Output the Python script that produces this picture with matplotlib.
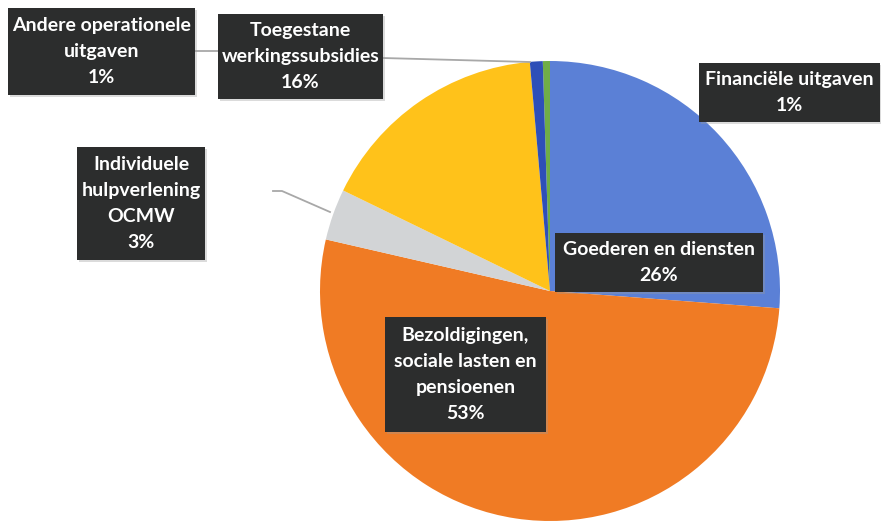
import matplotlib
matplotlib.use("Agg")
import matplotlib.pyplot as plt
from matplotlib.patches import Rectangle

categories = ["Financiële uitgaven", "Goederen en diensten",
              "Bezoldigingen, sociale lasten en pensioenen",
              "Individuele hulpverlening OCMW", "Toegestane werkingssubsidies",
              "Andere operationele uitgaven"]
values = [0.5, 26.2, 52.4, 3.6, 16.4, 0.9]
pct_labels = ["1%", "26%", "53%", "3%", "16%", "1%"]
label_texts = ["Financiële uitgaven", "Goederen en diensten",
               "Bezoldigingen,\nsociale lasten en\npensioenen",
               "Individuele\nhulpverlening\nOCMW", "Toegestane\nwerkingssubsidies",
               "Andere operationele\nuitgaven"]
colors = ["#70AD47", "#5B80D6", "#F07B24", "#D2D4D6", "#FFC21A", "#2E4FB8"]

W, H = 881, 524
fig = plt.figure(figsize=(W / 100, H / 100), dpi=100)
ax = fig.add_axes([0, 0, 1, 1])

cx, cy, r = 550, H - 291, 230
ax.pie(values, colors=colors, startangle=90 + values[0] * 3.6, counterclock=False,
       center=(cx, cy), radius=r, frame=True,
       wedgeprops=dict(linewidth=0))
ax.set_xlim(0, W)
ax.set_ylim(0, H)
ax.set_aspect("equal")
ax.axis("off")

# label boxes (pixel coords, top-left origin): x0, y0, x1, y1
label_boxes = [(699, 63, 880, 122), (555, 233, 763, 292), (385, 317, 546, 432),
               (77, 147, 205, 260), (218, 14, 383, 99), (8, 8, 195, 95)]

# leader lines
lc = "#A8A8A8"
ax.plot([195, 218], [H - 51, H - 51], color=lc, lw=1.3, zorder=1)
ax.plot([383, 530], [H - 58, H - 62], color=lc, lw=1.3, zorder=1)
ax.plot([273, 282, 330], [H - 191, H - 191, H - 212], color=lc, lw=1.3, zorder=1)

for (x0, y0, x1, y1), t, p in zip(label_boxes, label_texts, pct_labels):
    ax.add_patch(Rectangle((x0 + 2, H - y1 - 2), x1 - x0, y1 - y0,
                           fc="#9a9a9a", ec="none", alpha=0.35, zorder=4))
    ax.add_patch(Rectangle((x0, H - y1), x1 - x0, y1 - y0,
                           fc="#2C2D2D", ec="none", zorder=5))
    ax.text((x0 + x1) / 2, H - (y0 + y1) / 2, t + "\n" + p,
            ha="center", va="center", color="white", fontsize=14,
            fontfamily="Lato", fontweight="bold", linespacing=1.62, zorder=6)

fig.savefig("out.png", dpi=100)
